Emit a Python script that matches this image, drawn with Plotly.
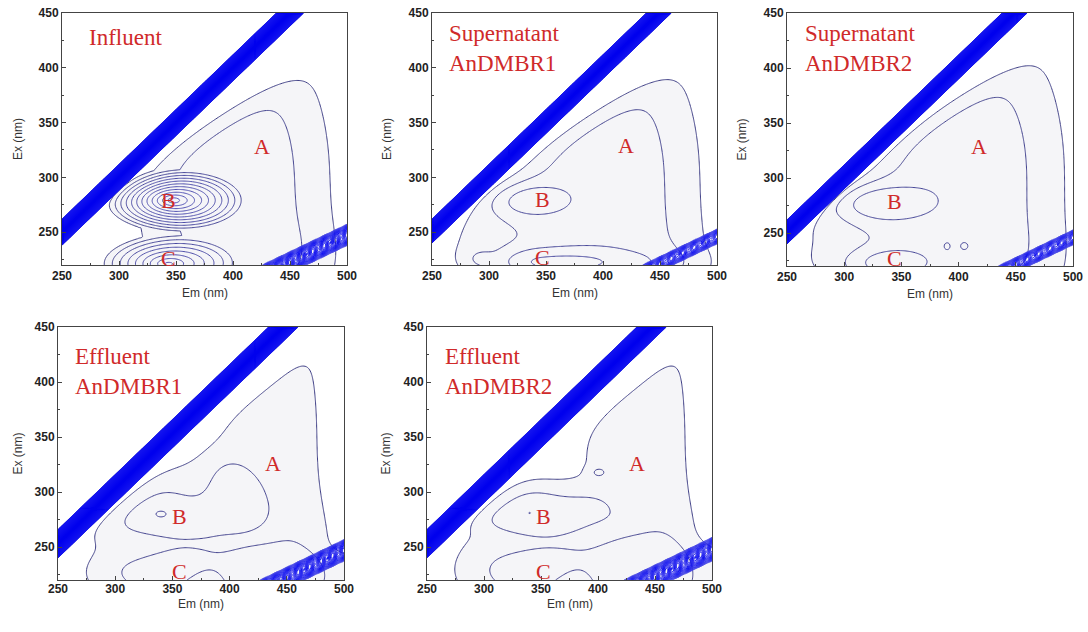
import numpy as np
import plotly.graph_objects as go

# ---------------- data ----------------
EM = np.arange(250, 501, 1.0)          # emission wavelengths (nm)
EX = np.arange(220, 451, 1.0)          # excitation wavelengths (nm)

panel_titles = ["Influent", "Supernatant<br>AnDMBR1", "Supernatant<br>AnDMBR2",
                "Effluent<br>AnDMBR1", "Effluent<br>AnDMBR2"]

# fluorescence components:
# (Em centre, Ex centre, height, width Em-left, width Em-right, width Ex-down, width Ex-up, shape)
# shape > 0: exp(-(r^2/2)^shape) ; shape == 0: cone
influent_peaks = [
    (400, 300, 2.7, 60, 60, 110, 110, 1.3),
    (462, 220, 0.6, 20, 30, 20, 30, 1.0),
    (347, 279, 11.0, 62, 62, 28, 28, 0),
    (343, 221, 8.0, 62, 62, 26, 26, 0),
]
sup1_peaks = [
    (400, 300, 2.7, 60, 60, 110, 110, 1.3),
    (462, 220, 0.5, 20, 30, 20, 30, 1.0),
    (290, 245, 0.9, 40, 45, 40, 35, 1.5),
    (330, 280, 1.8, 25, 25, 12, 12, 1.0),
    (345, 222, 2.3, 30, 70, 10, 10, 1.0),
    (292, 226, 0.9, 7, 7, 5, 5, 1.0),
]
sup2_peaks = [
    (400, 305, 2.75, 60, 65, 110, 115, 1.3),
    (465, 220, 0.5, 20, 30, 20, 30, 1.0),
    (290, 245, 0.9, 40, 45, 40, 35, 1.5),
    (325, 278, 2.0, 30, 30, 13, 13, 1.0),
    (340, 222, 2.0, 28, 25, 10, 10, 1.0),
    (390, 238, 0.8, 2.5, 2.5, 3, 3, 1.0),
    (405, 238, 0.9, 3, 3, 3, 3, 1.0),
]
eff1_peaks = [
    (440, 350, 1.5, 45, 32, 150, 120, 2.0),
    (485, 225, 0.75, 45, 50, 40, 50, 1.3),
    (330, 255, 1.2, 45, 40, 45, 45, 2.0),
    (375, 290, 1.2, 90, 40, 28, 35, 2.0),
    (340, 280, 1.0, 5, 5, 3, 3, 1.0),
    (380, 222, 1.15, 80, 110, 22, 20, 2.0),
]
eff2_peaks = [
    (440, 350, 1.5, 45, 32, 150, 120, 2.0),
    (485, 225, 0.75, 45, 50, 40, 50, 1.3),
    (330, 255, 1.2, 45, 40, 45, 45, 2.0),
    (350, 282, 1.3, 50, 45, 16, 22, 2.0),
    (340, 281, 0.6, 2.5, 2.5, 2, 2, 1.0),
    (380, 222, 1.15, 80, 110, 22, 26, 2.0),
    (400, 318, 0.9, 6, 6, 4, 4, 1.0),
]
panel_peaks = [influent_peaks, sup1_peaks, sup2_peaks, eff1_peaks, eff2_peaks]

# upper-left boundary of the fluorescence region: (Em0, Ex0, slope, softness)
panel_cut = [(300, 292, 0.68, 9), (300, 293, 0.68, 9), (300, 300, 0.70, 9),
             (305, 292, 0.84, 8), (305, 292, 0.84, 8)]

# scatter bands: (1st-order offset, 1st half-width, 1st height,
#                 2nd-order offset, 2nd half-width, 2nd height, 2nd period, modulation)
panel_scatter = [
    (0, 12, 150, 5, 10, 18, 10, 0.35),
    (-1, 11, 150, 8, 7, 14, 10, 0.35),
    (-1, 11, 150, 8, 7, 14, 10, 0.35),
    (-3, 13, 150, 6, 10, 18, 10, 0.35),
    (-3, 13, 150, 4, 11, 18, 10, 0.35),
]

# peak label positions (Em, Ex) for A, B, C
peak_names = ["A", "B", "C"]
label_em = [[425, 343, 343], [420, 347, 347], [418, 344, 344], [438, 356, 356], [434, 352, 352]]
label_ex = [[328, 279, 226], [329, 280, 227], [329, 279, 227], [326, 278, 228], [326, 278, 228]]
title_em = [272, 263, 264, 263, 264]
title_ex = [428, 418, 418, 410, 410]

# ---------------- layout (pixel boxes of the five plots) ----------------
W, H = 1088, 632
boxes = [(62, 347, 13, 265), (432, 717, 13, 265), (787, 1073, 13, 266),
         (58, 344, 327, 580), (427, 712, 327, 580)]
em_title_gap = [28, 28, 28, 24, 24]
ex_title_x = [18, 387, 742, 17, 385]
xlabel_shift = [0, 0, 0, -2, -2]

E, X = np.meshgrid(EM, EX)


def fluor_field(peaks, cut):
    Z = np.zeros_like(E)
    for em0, ex0, h, wl, wr, wd, wu, p in peaks:
        du, dv = E - em0, X - ex0
        u = np.where(du < 0, du / wl, du / wr)
        v = np.where(dv < 0, dv / wd, dv / wu)
        r2 = u ** 2 + v ** 2
        if p == 0:
            Z += h * np.clip(1 - np.sqrt(r2), 0, None)
        else:
            Z += h * np.exp(-(r2 / 2.0) ** p)
    e0, x0, k, w = cut
    Z *= 1.0 / (1.0 + np.exp(-((x0 + k * (E - e0)) - X) / w))
    Z *= 1.0 / (1.0 + np.exp(-((E - X) - 10) / 3.0))
    return Z


def scatter_field(s):
    c1, w1, a1, c2, w2, a2, per, mod = s
    d1 = np.abs(X - (E - c1))
    z1 = a1 * np.clip(1 - d1 / w1, 0, None)
    d2 = (X - (E - c2) / 2.0) / w2
    z2 = a2 * np.clip(1 - d2 ** 2, 0, None) * (1 - mod * (1 - np.cos(2 * np.pi * E / per)) / 2)
    return z1 + z2


fig = go.Figure()
layout = {}
annotations = []
red = "#d02a2a"
for i in range(5):
    ax = "" if i == 0 else str(i + 1)
    xa, ya = "x" + ax, "y" + ax
    x0p, x1p, y0p, y1p = boxes[i]
    Zf = fluor_field(panel_peaks[i], panel_cut[i])
    Zs = scatter_field(panel_scatter[i])

    fig.add_trace(go.Contour(x=EM, y=EX, z=Zf, xaxis=xa, yaxis=ya, showscale=False,
                             contours=dict(start=1, end=1, size=1, coloring="fill", showlines=False),
                             colorscale=[[0, "#ffffff"], [1, "#f5f5f8"]], line=dict(width=0),
                             hoverinfo="skip"))
    fig.add_trace(go.Contour(x=EM, y=EX, z=Zf, xaxis=xa, yaxis=ya, showscale=False,
                             contours=dict(start=1, end=20, size=1, coloring="lines"),
                             colorscale=[[0, "#3f3f86"], [0.2, "#4b4ba6"], [1, "#6464d2"]],
                             line=dict(width=1), hoverinfo="skip"))
    fig.add_trace(go.Contour(x=EM, y=EX, z=Zs, xaxis=xa, yaxis=ya, showscale=False,
                             contours=dict(start=1, end=150, size=1, coloring="lines"),
                             colorscale=[[0, "#4a4ae6"], [0.06, "#1414f0"], [1, "#0000ee"]],
                             line=dict(width=1), hoverinfo="skip"))

    common = dict(showline=True, linecolor="#444", linewidth=1, mirror=True, ticks="inside",
                  ticklen=4, tickcolor="#444", showgrid=False, zeroline=False, automargin=False,
                  tickfont=dict(family="Liberation Sans", size=12, color="#222", weight="bold"),
                  minor=dict(ticks="inside", ticklen=2, dtick=25, tickcolor="#444"))
    layout["xaxis" + ax] = dict(domain=[x0p / W, x1p / W], range=[250, 500], anchor=ya,
                                tickvals=[250, 300, 350, 400, 450, 500],
                                ticklabelstandoff=xlabel_shift[i], **common)
    layout["yaxis" + ax] = dict(domain=[1 - y1p / H, 1 - y0p / H], range=[220, 450], anchor=xa,
                                tickvals=[250, 300, 350, 400, 450], **common)

    annotations.append(dict(x=title_em[i], y=title_ex[i], xref=xa, yref=ya, text=panel_titles[i],
                            showarrow=False, xanchor="left", yanchor="middle", align="left",
                            font=dict(family="Liberation Serif", size=23, color=red)))
    for j in range(3):
        annotations.append(dict(x=label_em[i][j], y=label_ex[i][j], xref=xa, yref=ya,
                                text=peak_names[j], showarrow=False,
                                xanchor="center", yanchor="middle",
                                font=dict(family="Liberation Serif", size=22, color=red)))
    annotations.append(dict(x=ex_title_x[i] / W, y=1 - (y0p + y1p) / 2 / H, xref="paper", yref="paper",
                            text="Ex (nm)", textangle=-90, showarrow=False,
                            xanchor="center", yanchor="middle",
                            font=dict(family="Liberation Sans", size=12, color="#333")))
    annotations.append(dict(x=(x0p + x1p) / 2 / W, y=1 - (y1p + em_title_gap[i]) / H,
                            xref="paper", yref="paper", text="Em (nm)", showarrow=False,
                            xanchor="center", yanchor="middle",
                            font=dict(family="Liberation Sans", size=12, color="#333")))

fig.update_layout(width=W, height=H, margin=dict(l=0, r=0, t=0, b=0, autoexpand=False),
                  paper_bgcolor="white", plot_bgcolor="white", showlegend=False,
                  annotations=annotations, **layout)
fig.write_html("out.html", config={"displayModeBar": False},
               post_script="document.body.style.margin='0';document.body.style.overflow='hidden';")
